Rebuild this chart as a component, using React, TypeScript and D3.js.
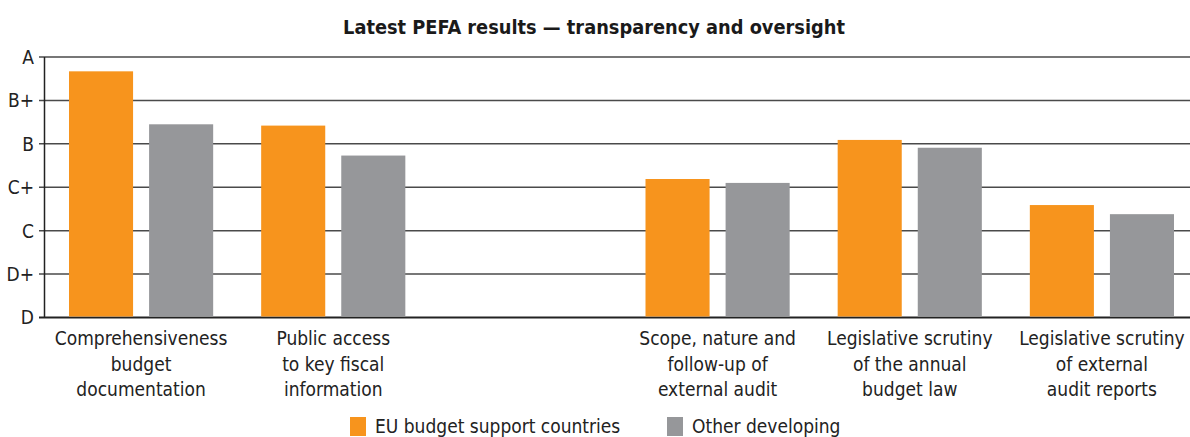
import React, { useEffect, useRef } from 'react';
import * as d3 from 'd3';

// PEFA grades (0 = D ... 6 = A)
const grades = ['D', 'D+', 'C', 'C+', 'B', 'B+', 'A'];
const categoryLabels = [
  ['Comprehensiveness', 'budget', 'documentation'],
  ['Public access', 'to key fiscal', 'information'],
  [],
  ['Scope, nature and', 'follow-up of', 'external audit'],
  ['Legislative scrutiny', 'of the annual', 'budget law'],
  ['Legislative scrutiny', 'of external', 'audit reports'],
];
const euSupport = [5.67, 4.42, null, 3.19, 4.09, 2.59];
const otherDeveloping = [4.45, 3.73, null, 3.1, 3.91, 2.38];
const seriesNames = ['EU budget support countries', 'Other developing'];
const seriesColors = ['#f7941d', '#96979a'];

const W = 1190;
const H = 437;
const FONT = "'Liberation Sans Narrow', 'DejaVu Sans Condensed', 'Roboto', sans-serif";

const App = () => {
  const svgRef = useRef<SVGSVGElement>(null);

  useEffect(() => {
    document.body.style.margin = '0';
    const svg = d3.select(svgRef.current);
    svg.selectAll('*').remove();

    const keys = categoryLabels.map((_, i) => String(i));
    const x0 = d3.scaleBand().domain(keys).range([45, 1198]).padding(0);
    const x1 = d3.scaleBand().domain(seriesNames)
      .range([24, x0.bandwidth() - 24]).paddingInner(0.2).paddingOuter(0);
    const y = d3.scaleLinear().domain([0, grades.length - 1]).range([317.5, 57]);

    svg.append('text')
      .attr('x', 594).attr('y', 34)
      .attr('text-anchor', 'middle')
      .style('font-family', FONT).style('font-weight', 'bold').style('font-size', '19.8px')
      .attr('fill', '#1a1a1a')
      .text('Latest PEFA results — transparency and oversight');

    // grid + y labels
    const g = svg.append('g');
    grades.forEach((gr, i) => {
      g.append('line')
        .attr('x1', 39).attr('x2', W)
        .attr('y1', y(i)).attr('y2', y(i))
        .attr('stroke', i === 0 ? '#222' : '#4a4a4a')
        .attr('stroke-width', i === 0 ? 2 : 1.5);
      g.append('text')
        .attr('x', 34).attr('y', y(i)).attr('dy', '0.36em')
        .attr('text-anchor', 'end')
        .style('font-family', FONT).style('font-size', '19px')
        .attr('fill', '#222')
        .text(gr);
    });
    g.append('line')
      .attr('x1', 44.5).attr('x2', 44.5).attr('y1', y(6)).attr('y2', y(0))
      .attr('stroke', '#222').attr('stroke-width', 1.5);

    // bars
    const series = [euSupport, otherDeveloping];
    series.forEach((vals, si) => {
      svg.append('g').selectAll('rect')
        .data(vals.map((v, i) => ({ v, i })).filter(d => d.v !== null))
        .enter()
        .append('rect')
        .attr('x', d => (x0(String(d.i)) as number) + (x1(seriesNames[si]) as number))
        .attr('width', x1.bandwidth())
        .attr('y', d => y(d.v as number))
        .attr('height', d => y(0) - y(d.v as number) - 1)
        .attr('fill', seriesColors[si]);
    });

    // category labels
    categoryLabels.forEach((lines, i) => {
      const cx = (x0(String(i)) as number) + x0.bandwidth() / 2;
      lines.forEach((ln, li) => {
        svg.append('text')
          .attr('x', cx).attr('y', 345 + li * 25.5)
          .attr('text-anchor', 'middle')
          .style('font-family', FONT).style('font-size', '19px')
          .attr('fill', '#222')
          .text(ln);
      });
    });

    // legend
    const legendX = [350, 667];
    seriesNames.forEach((name, si) => {
      svg.append('rect')
        .attr('x', legendX[si]).attr('y', 417)
        .attr('width', 16).attr('height', 19)
        .attr('fill', seriesColors[si]);
      svg.append('text')
        .attr('x', legendX[si] + 25).attr('y', 433)
        .style('font-family', FONT).style('font-size', '19px')
        .attr('fill', '#222')
        .text(name);
    });
  }, []);

  return <svg ref={svgRef} width={W} height={H} style={{ display: 'block', background: '#fff' }} />;
};

export default App;
